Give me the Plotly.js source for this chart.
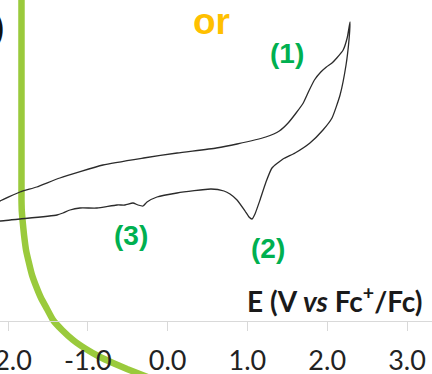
<!DOCTYPE html>
<html>
<head>
<meta charset="utf-8">
<script src="https://cdn.plot.ly/plotly-3.0.1.min.js"></script>
<style>html,body{margin:0;padding:0;background:#fff;}#chart{width:432px;height:374px;}</style>
</head>
<body>
<div id="chart"></div>
<script>
// Cyclic voltammogram, potential E (V vs Fc+/Fc), current in arbitrary units
const forwardE = [-2.12, -2.10, -1.85, -1.64, -1.35, -0.81, -0.30, 0.12, 0.61, 0.87, 1.23, 1.40, 1.51, 1.61, 1.70, 1.77, 1.84, 1.92, 1.99, 2.06, 2.12, 2.20, 2.25, 2.286];
const forwardI = [11.8, 12.0, 12.9, 13.4, 14.3, 15.6, 16.3, 16.8, 17.3, 17.7, 18.4, 19.0, 19.8, 20.8, 21.8, 23.0, 24.1, 24.9, 25.4, 25.8, 26.3, 27.1, 28.3, 29.9];
const reverseE = [2.286, 2.273, 2.236, 2.161, 2.06, 1.947, 1.784, 1.597, 1.446, 1.308, 1.233, 1.158, 1.095, 1.058, 1.02, 0.97, 0.87, 0.782, 0.707, 0.544, 0.118, -0.133, -0.258, -0.308, -0.371, -0.434, -0.534, -0.634, -0.885, -1.098, -1.223, -1.311, -1.386, -1.85, -2.10, -2.12];
const reverseI = [29.9, 28.1, 25.6, 22.6, 20.3, 19.1, 17.8, 16.8, 16.2, 15.3, 13.9, 12.1, 10.7, 10.2, 10.4, 11.0, 12.1, 12.7, 13.0, 13.2, 12.8, 12.4, 11.9, 11.5, 11.6, 11.8, 11.6, 11.6, 11.3, 11.3, 11.1, 10.8, 10.6, 10.2, 10.0, 10.0];
// decorative green arc
const arcE = [-1.831, -1.831, -1.828, -1.818, -1.799, -1.774, -1.737, -1.699, -1.649, -1.586, -1.511, -1.436, -1.323, -1.185, -1.023, -0.847, -0.685, -0.509, -0.221];
const arcI = [32.6, 12.1, 11.1, 10.1, 8.6, 7.1, 5.8, 4.6, 3.5, 2.3, 1.2, 0.1, -0.9, -1.9, -2.8, -3.6, -4.2, -4.8, -5.7];
const tickVals = [-2, -1, 0, 1, 2, 3];
const tickText = ['-2.0', '-1.0', '0.0', '1.0', '2.0', '3.0'];
const labels = [
  {text: '(1)', E: 1.50, I: 26.8},
  {text: '(2)', E: 1.26, I: 7.3},
  {text: '(3)', E: -0.46, I: 8.6}
];

const W = 432, H = 374;
const px2paperX = p => p / W;
const px2paperY = p => (H - p) / H;

const traces = [
  {x: arcE, y: arcI, mode: 'lines', line: {color: '#9ACA3C', width: 6.5, shape: 'spline', smoothing: 0.3}, hoverinfo: 'skip'},
  {x: forwardE.concat(reverseE.slice(1)), y: forwardI.concat(reverseI.slice(1)), mode: 'lines',
   line: {color: '#2b2b2b', width: 1.3, shape: 'spline', smoothing: 0.5}}
];

const annotations = labels.map(l => ({
  x: l.E, y: l.I, xref: 'x', yref: 'y', text: '<b>' + l.text + '</b>', showarrow: false,
  font: {family: 'Liberation Sans, Arial', size: 28, color: '#00B050'}
}));
annotations.push({x: px2paperX(211), y: px2paperY(21), xref: 'paper', yref: 'paper', yanchor: 'middle', text: '<b>or</b>', showarrow: false,
  font: {family: 'Liberation Sans, Arial', size: 37, color: '#FFC000'}});
annotations.push({x: px2paperX(6), y: px2paperY(28), xref: 'paper', yref: 'paper', xanchor: 'right', yanchor: 'middle', text: '<b>)</b>', showarrow: false,
  font: {family: 'Lato', size: 32, color: '#111'}});
annotations.push({x: px2paperX(425), y: px2paperY(299), xref: 'paper', yref: 'paper', xanchor: 'right', yanchor: 'middle',
  text: '<b>E (V <i>vs</i> Fc<sup>+</sup>/Fc)</b>', showarrow: false,
  font: {family: 'Lato', size: 28, color: '#1a1a1a'}});

const layout = {
  width: W, height: H,
  margin: {l: 0, r: 0, t: 0, b: 0, pad: 0},
  paper_bgcolor: '#fff', plot_bgcolor: '#fff',
  showlegend: false,
  xaxis: {
    range: [-2 - 8 / 79.8, -2 + 424 / 79.8],
    anchor: 'free', position: 53 / H,
    showline: true, linecolor: '#d9d9d9', linewidth: 1,
    ticks: 'outside', ticklen: 9, tickcolor: '#d9d9d9', tickwidth: 1,
    tickvals: tickVals, ticktext: tickText,
    ticklabeloverflow: 'allow', ticklabelstandoff: 7,
    tickfont: {family: 'Lato', size: 27, color: '#222'},
    showgrid: false, zeroline: false, automargin: false, fixedrange: true
  },
  yaxis: {range: [-5.3, 32.1], visible: false, showgrid: false, zeroline: false, fixedrange: true},
  annotations: annotations
};

Plotly.newPlot('chart', traces, layout, {displayModeBar: false, staticPlot: true});
</script>
</body>
</html>
